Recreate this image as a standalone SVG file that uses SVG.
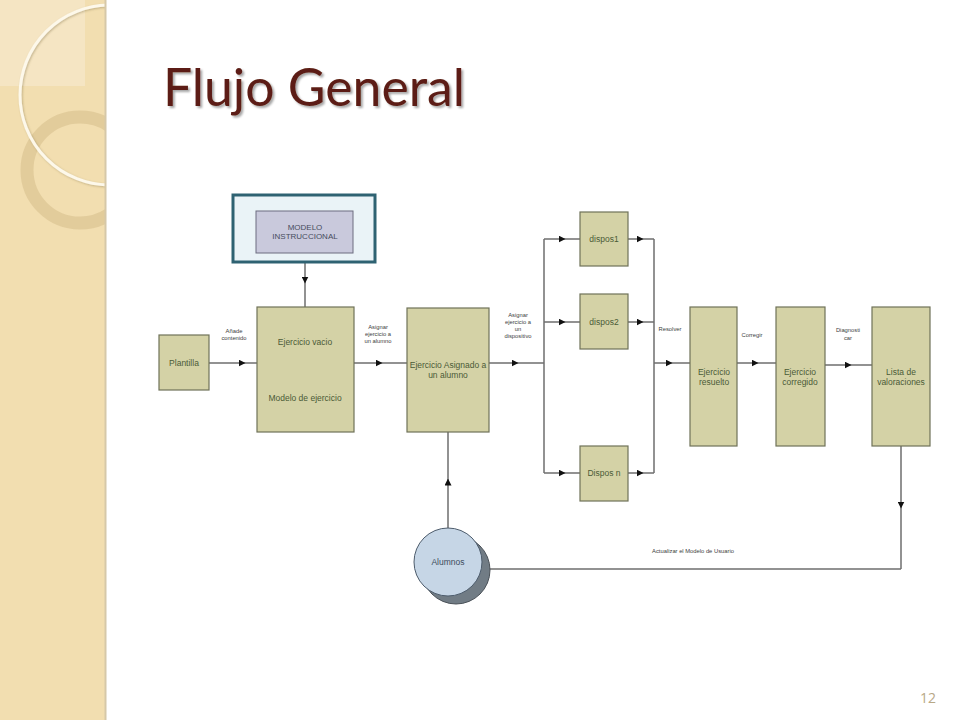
<svg xmlns="http://www.w3.org/2000/svg" width="960" height="720" viewBox="0 0 960 720">
<defs>
<style>
.box{fill:#d4d2a6;stroke:#6f7259;stroke-width:1.2}
.lbl{font-family:"Liberation Sans",Arial,sans-serif;font-size:8.5px;fill:#4a5a36;text-anchor:middle}
.sm{font-family:"Liberation Sans",Arial,sans-serif;font-size:5.8px;fill:#3c4040;text-anchor:middle}
.cn{fill:none;stroke:#6e6e6e;stroke-width:1.5}
.ar{marker-mid:url(#arr)}
</style>
<marker id="arr" viewBox="0 0 10 10" refX="5" refY="5" markerWidth="7" markerHeight="7" markerUnits="userSpaceOnUse" orient="auto">
<path d="M0,0 L10,5 L0,10 Z" fill="#111"/>
</marker>
<clipPath id="strip"><rect x="0" y="0" width="105" height="720"/></clipPath>
<filter id="tsh" x="-5%" y="-20%" width="115%" height="150%">
<feDropShadow dx="2" dy="2" stdDeviation="1.2" flood-color="#000" flood-opacity="0.35"/>
</filter>
<filter id="csh" x="-20%" y="-20%" width="140%" height="140%">
<feDropShadow dx="1" dy="1" stdDeviation="1" flood-color="#7a6a40" flood-opacity="0.4"/>
</filter>
</defs>

<g id="background">
<rect x="0" y="0" width="960" height="720" fill="#ffffff"/>
<rect x="0" y="0" width="105" height="720" fill="#f2deb0"/>
<g clip-path="url(#strip)">
<rect x="0" y="0" width="85" height="86" fill="#f7ead0" opacity="0.6"/>
<circle cx="80" cy="170" r="53" fill="none" stroke="#dcc594" stroke-width="13" opacity="0.75"/>
<circle cx="110" cy="95" r="90" fill="none" stroke="#fdf8ea" stroke-width="3" filter="url(#csh)"/>
</g>
<line x1="105.5" y1="0" x2="105.5" y2="720" stroke="#d6c8a8" stroke-width="2"/>
</g>

<text id="title" x="163" y="106" font-family="Lato,'Open Sans',sans-serif" font-size="52" fill="#5b1f14" textLength="302" lengthAdjust="spacingAndGlyphs" filter="url(#tsh)">Flujo General</text>

<g id="connectors">
<path class="cn ar" d="M305 253 L305 280 L305 307"/>
<path class="cn ar" d="M209 363 L242 363 L257 363"/>
<path class="cn ar" d="M354 363 L379 363 L407 363"/>
<path class="cn ar" d="M489 363 L515 363 L544 363"/>
<path class="cn" d="M544 239 L544 473"/>
<path class="cn ar" d="M544 239 L562 239 L580 239"/>
<path class="cn ar" d="M544 322 L562 322 L580 322"/>
<path class="cn ar" d="M544 473 L562 473 L580 473"/>
<path class="cn ar" d="M628 239 L640 239 L654 239"/>
<path class="cn ar" d="M628 322 L640 322 L654 322"/>
<path class="cn ar" d="M628 473 L640 473 L654 473"/>
<path class="cn" d="M654 239 L654 473"/>
<path class="cn ar" d="M654 363 L669 363 L690 363"/>
<path class="cn ar" d="M737 363 L755 363 L776 363"/>
<path class="cn ar" d="M825 365 L848 365 L872 365"/>
<path class="cn ar" d="M901 446 L901 505 L901 569"/>
<path class="cn" d="M901 569 L488 569"/>
<path class="cn ar" d="M448 528 L448 482 L448 432"/>
<text class="sm" x="234" y="333">Añade</text>
<text class="sm" x="234" y="340">contenido</text>
<text class="sm" x="378" y="329">Asignar</text>
<text class="sm" x="378" y="336">ejercicio a</text>
<text class="sm" x="378" y="343">un alumno</text>
<text class="sm" x="518" y="317">Asignar</text>
<text class="sm" x="518" y="324">ejercicio a</text>
<text class="sm" x="518" y="331">un</text>
<text class="sm" x="518" y="338">dispositivo</text>
<text class="sm" x="670" y="331">Resolver</text>
<text class="sm" x="752" y="337">Corregir</text>
<text class="sm" x="848" y="332">Diagnosti</text>
<text class="sm" x="848" y="340">car</text>
<text class="sm" x="693" y="553">Actualizar el Modelo de Usuario</text>
</g>

<g id="modelo">
<rect x="233" y="195" width="142" height="67" fill="#eaf3f7" stroke="#2e6272" stroke-width="3"/>
<rect x="256" y="211" width="97" height="42" fill="#c9c9dc" stroke="#6c6c80" stroke-width="1"/>
<text class="lbl" x="305" y="230" style="fill:#464c5c;font-size:8px">MODELO</text>
<text class="lbl" x="305" y="239" style="fill:#464c5c;font-size:8px">INSTRUCCIONAL</text>
</g>

<g id="plantilla">
<rect class="box" x="159" y="335" width="50" height="55"/>
<text class="lbl" x="184" y="366">Plantilla</text>
</g>

<g id="ejercicio-vacio">
<rect class="box" x="257" y="307" width="97" height="125"/>
<text class="lbl" x="305" y="345">Ejercicio vacio</text>
<text class="lbl" x="305" y="401">Modelo de ejercicio</text>
</g>

<g id="ejercicio-asignado">
<rect class="box" x="407" y="308" width="82" height="124"/>
<text class="lbl" x="448" y="368">Ejercicio Asignado a</text>
<text class="lbl" x="448" y="378">un alumno</text>
</g>

<g id="dispos1">
<rect class="box" x="580" y="212" width="48" height="54"/>
<text class="lbl" x="604" y="242">dispos1</text>
</g>
<g id="dispos2">
<rect class="box" x="580" y="294" width="48" height="55"/>
<text class="lbl" x="604" y="325">dispos2</text>
</g>
<g id="dispos-n">
<rect class="box" x="580" y="446" width="48" height="55"/>
<text class="lbl" x="604" y="476">Dispos n</text>
</g>

<g id="ejercicio-resuelto">
<rect class="box" x="690" y="307" width="47" height="139"/>
<text class="lbl" x="714" y="375">Ejercicio</text>
<text class="lbl" x="714" y="385">resuelto</text>
</g>

<g id="ejercicio-corregido">
<rect class="box" x="776" y="307" width="49" height="139"/>
<text class="lbl" x="800" y="375">Ejercicio</text>
<text class="lbl" x="800" y="385">corregido</text>
</g>

<g id="lista-valoraciones">
<rect class="box" x="872" y="307" width="58" height="139"/>
<text class="lbl" x="901" y="375">Lista de</text>
<text class="lbl" x="901" y="385">valoraciones</text>
</g>

<g id="alumnos">
<circle cx="456" cy="570" r="34" fill="#717c85" stroke="#4b5259" stroke-width="1"/>
<circle cx="448" cy="562" r="34" fill="#c6d6e6" stroke="#4d5c6c" stroke-width="1"/>
<text class="lbl" x="448" y="565" style="fill:#3c4c5c">Alumnos</text>
</g>

<text id="page-number" x="920" y="703" font-family="'Open Sans','Liberation Sans',sans-serif" font-size="14" fill="#b8a886">12</text>
</svg>
